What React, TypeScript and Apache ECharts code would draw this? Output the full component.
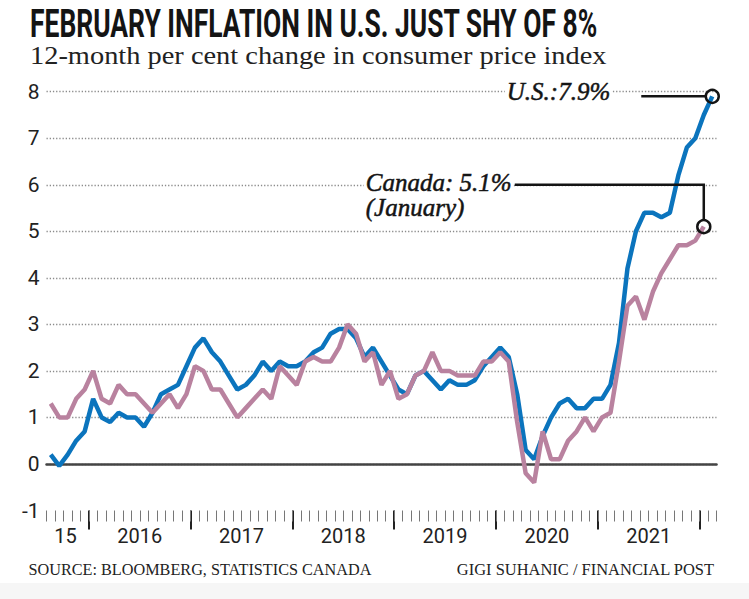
import React, { useEffect, useRef } from 'react';
import * as echarts from 'echarts';

// ---- data (monthly, Aug 2015 .. Feb 2022) ----
const usCpi = [
  0.2, -0.04, 0.2, 0.5, 0.7,
  1.4, 1.0, 0.9, 1.1, 1.0, 1.0, 0.8, 1.1, 1.5, 1.6, 1.7, 2.1,
  2.5, 2.7, 2.4, 2.2, 1.9, 1.6, 1.7, 1.9, 2.2, 2.0, 2.2, 2.1,
  2.1, 2.2, 2.4, 2.5, 2.8, 2.9, 2.9, 2.7, 2.3, 2.5, 2.2, 1.9,
  1.6, 1.5, 1.9, 2.0, 1.8, 1.6, 1.8, 1.7, 1.7, 1.8, 2.1, 2.3,
  2.5, 2.3, 1.5, 0.3, 0.1, 0.6, 1.0, 1.3, 1.4, 1.2, 1.2, 1.4,
  1.4, 1.7, 2.6, 4.2, 5.0, 5.4, 5.4, 5.3, 5.4, 6.2, 6.8, 7.0,
  7.5, 7.9,
];
const canadaCpi = [
  1.3, 1.0, 1.0, 1.4, 1.6,
  2.0, 1.4, 1.3, 1.7, 1.5, 1.5, 1.3, 1.1, 1.3, 1.5, 1.2, 1.5,
  2.1, 2.0, 1.6, 1.6, 1.3, 1.0, 1.2, 1.4, 1.6, 1.4, 2.1, 1.9,
  1.7, 2.2, 2.3, 2.2, 2.2, 2.5, 3.0, 2.8, 2.2, 2.4, 1.7, 2.0,
  1.4, 1.5, 1.9, 2.0, 2.4, 2.0, 2.0, 1.9, 1.9, 1.9, 2.2, 2.2,
  2.4, 2.2, 0.9, -0.2, -0.4, 0.7, 0.1, 0.1, 0.5, 0.7, 1.0, 0.7,
  1.0, 1.1, 2.2, 3.4, 3.6, 3.1, 3.7, 4.1, 4.4, 4.7, 4.7, 4.8,
  5.1,
];
const monthCount = 79; // Aug 2015 .. Feb 2022
// month boundaries (months since Aug 2015) where a new year starts
const yearTickMonths = [5, 17, 29, 41, 53, 65, 77];
const yearLabelPos = [2.25, 11, 23, 35, 47, 59, 71];
const yearLabels = ['15', '2016', '2017', '2018', '2019', '2020', '2021'];

const titleText = 'FEBRUARY INFLATION IN U.S. JUST SHY OF 8%';
const subtitleText = '12-month per cent change in consumer price index';
const sourceText = 'SOURCE: BLOOMBERG, STATISTICS CANADA';
const creditText = 'GIGI SUHANIC / FINANCIAL POST';
const usLabel = 'U.S.:7.9%';
const caLabel = 'Canada: 5.1%';
const caSub = '(January)';
const usLast = 7.9;
const caLast = 5.1;

const BLUE = '#0b74bd';
const PINK = '#b9829f';
const INK = '#141414';

function measure(text: string, font: string): number {
  const c = document.createElement('canvas').getContext('2d')!;
  c.font = font;
  return c.measureText(text).width;
}

export default function App() {
  const ref = useRef<HTMLDivElement>(null);
  useEffect(() => {
    const el = ref.current!;
    const chart = echarts.init(el, null, { renderer: 'svg' });
    const usData = usCpi.map((v, i) => [i + 0.5, v]);
    const caData = canadaCpi.map((v, i) => [i + 0.5, v]);

    chart.setOption({
      animation: false,
      backgroundColor: '#fff',
      grid: { left: 46.5, right: 32.5, top: 91.7, bottom: 88.5, containLabel: false },
      xAxis: [
        {
          type: 'value', min: 0, max: monthCount, position: 'bottom',
          axisLine: { show: false, onZero: false },
          axisTick: { show: true, customValues: yearTickMonths, length: 19, lineStyle: { color: '#222', width: 2 } },
          axisLabel: {
            show: true, customValues: yearLabelPos, margin: 15, fontSize: 20,
            fontFamily: 'Roboto', color: '#222',
            formatter: (v: number) => {
              const k = yearLabelPos.findIndex((p) => Math.abs(p - v) < 0.01);
              return k >= 0 ? yearLabels[k] : '';
            },
          },
          splitLine: { show: false },
        },
        {
          type: 'value', min: 0, max: monthCount, interval: 1, position: 'bottom',
          axisLine: { show: false, onZero: false },
          axisTick: { show: true, length: 11, lineStyle: { color: '#777', width: 1 } },
          axisLabel: { show: false },
          splitLine: { show: false },
        },
        {
          type: 'value', min: 0, max: monthCount,
          axisLine: { show: true, onZero: true, lineStyle: { color: '#444', width: 2.5 } },
          axisTick: { show: false }, axisLabel: { show: false }, splitLine: { show: false },
        },
      ],
      yAxis: {
        type: 'value', min: -1, max: 8, interval: 1,
        axisLine: { show: false }, axisTick: { show: false },
        axisLabel: { fontSize: 21, fontFamily: 'Roboto', color: '#222', margin: 7, padding: [8, 0, 0, 0] },
        splitLine: { show: true, showMinLine: false, lineStyle: { color: '#8c8c8c', type: [1.3, 1.9], width: 1.3 } },
      },
      series: [
        {
          type: 'line', name: 'U.S.', data: usData, xAxisIndex: 0, yAxisIndex: 0,
          symbol: 'none', showSymbol: false, z: 3,
          lineStyle: { color: BLUE, width: 4.5 },
        },
        {
          type: 'line', name: 'Canada', data: caData, xAxisIndex: 0, yAxisIndex: 0,
          symbol: 'none', showSymbol: false, z: 4,
          lineStyle: { color: PINK, width: 4.5 },
        },
      ],
    });

    const toPx = (x: number, y: number) => chart.convertToPixel({ seriesIndex: 0 }, [x, y]) as number[];
    const us = toPx(usCpi.length - 0.5, usLast);
    const ca = toPx(canadaCpi.length - 0.5, caLast);
    const y8 = toPx(0, 8)[1];
    const y6 = toPx(0, 6)[1];
    const r = 6.5;

    const titleFont = 'bold 38px Roboto';
    const subFont = '26px "Liberation Serif"';
    const footFont = '16.5px "Liberation Serif"';
    const titleScale = 568 / measure(titleText, titleFont);
    const subScale = 577 / measure(subtitleText, subFont);
    const srcScale = 343 / measure(sourceText, footFont);
    const credScale = 258 / measure(creditText, footFont);

    const annFont = {
      fontFamily: '"Liberation Serif"', fontStyle: 'italic', fontSize: 25, fill: INK,
      stroke: INK, lineWidth: 0.5,
    };

    chart.setOption({
      graphic: [
        { type: 'rect', z: -10, shape: { x: 0, y: 583, width: 749, height: 16 }, style: { fill: '#f6f6f6' } },
        {
          type: 'text', x: 30, y: 24, scaleX: titleScale,
          style: { text: titleText, fontFamily: 'Roboto', fontWeight: 'bold', fontSize: 38, fill: INK, textAlign: 'left', textVerticalAlign: 'middle' },
        },
        {
          type: 'text', x: 30, y: 55.5, scaleX: subScale,
          style: { text: subtitleText, fontFamily: '"Liberation Serif"', fontSize: 26, fill: '#222', textAlign: 'left', textVerticalAlign: 'middle' },
        },
        {
          type: 'text', x: 28.5, y: 569.5, scaleX: srcScale,
          style: { text: sourceText, fontFamily: '"Liberation Serif"', fontSize: 16.5, fill: '#222', textAlign: 'left', textVerticalAlign: 'middle' },
        },
        {
          type: 'text', x: 714, y: 569.5, scaleX: credScale,
          style: { text: creditText, fontFamily: '"Liberation Serif"', fontSize: 16.5, fill: '#222', textAlign: 'right', textVerticalAlign: 'middle' },
        },
        // U.S. annotation
        {
          type: 'text', x: us[0] - 100, y: y8 - 0.5, z: 20,
          style: { ...annFont, text: usLabel, textAlign: 'right', textVerticalAlign: 'middle', backgroundColor: '#fff', padding: [0, 2] },
        },
        {
          type: 'line', z: 20, shape: { x1: us[0] - 71, y1: us[1], x2: us[0] - r, y2: us[1] },
          style: { stroke: INK, lineWidth: 2.5 },
        },
        { type: 'circle', z: 21, shape: { cx: us[0], cy: us[1], r }, style: { fill: 'none', stroke: INK, lineWidth: 2.5 } },
        // Canada annotation
        {
          type: 'text', x: ca[0] - 340, y: y6 - 2, z: 20,
          style: { ...annFont, text: caLabel, textAlign: 'left', textVerticalAlign: 'middle', backgroundColor: '#fff', padding: [0, 2] },
        },
        {
          type: 'text', x: ca[0] - 340, y: y6 + 23, z: 20,
          style: { ...annFont, text: caSub, textAlign: 'left', textVerticalAlign: 'middle', backgroundColor: '#fff', padding: [0, 2] },
        },
        {
          type: 'polyline', z: 20,
          shape: { points: [[ca[0] - 189, y6], [ca[0], y6], [ca[0], ca[1] - r]] },
          style: { stroke: INK, lineWidth: 2.5, fill: 'none' },
        },
        { type: 'circle', z: 21, shape: { cx: ca[0], cy: ca[1], r }, style: { fill: 'none', stroke: INK, lineWidth: 2.5 } },
      ],
    });

    return () => chart.dispose();
  }, []);

  return (
    <div
      ref={ref}
      style={{ position: 'absolute', left: 0, top: 0, width: 749, height: 599, background: '#fff' }}
    />
  );
}
